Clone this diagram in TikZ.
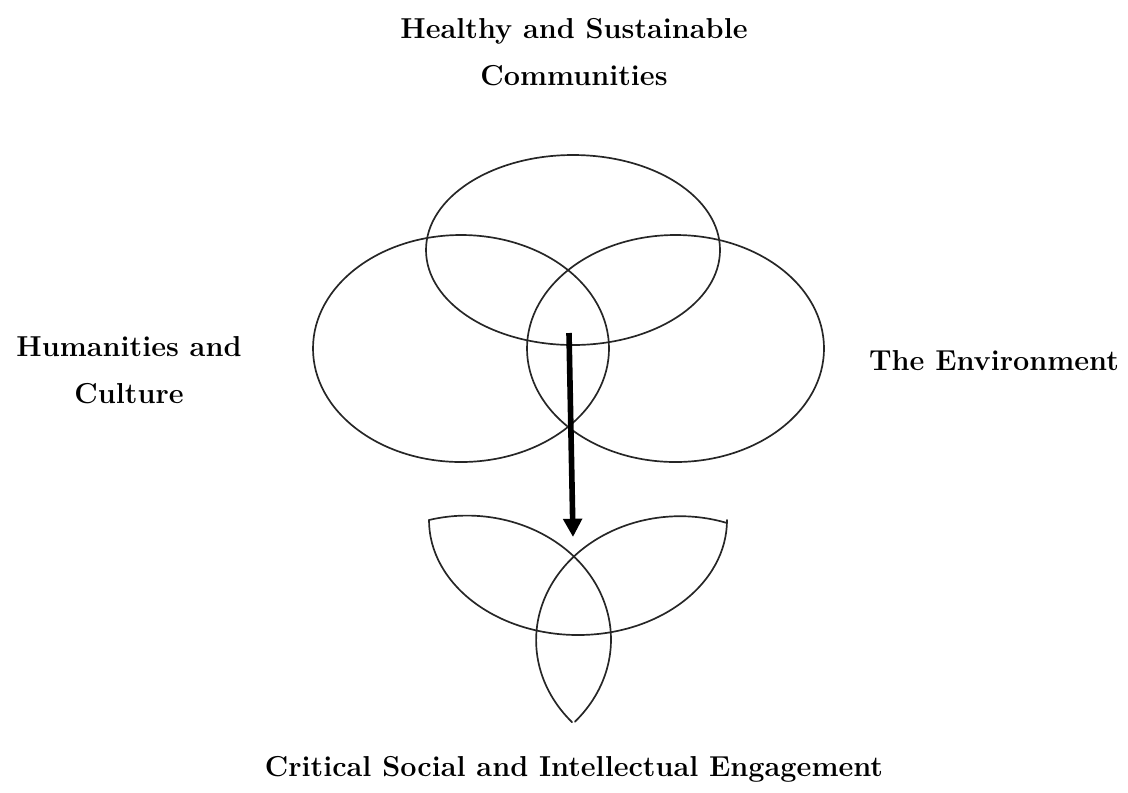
\documentclass[tikz,border=0pt]{standalone}
\usetikzlibrary{arrows.meta}
\tikzset{
	ring/.style={draw=black!85, line width=1.2pt},
	lbl/.style={font=\fontsize{20.5}{33}\selectfont\bfseries, align=center, inner sep=0pt}
}
\begin{document}
\begin{tikzpicture}[x=0.025cm, y=-0.025cm, line cap=round, line join=round]
	\useasboundingbox (0,0) rectangle (1128,792);
	% Ba hình elip của sơ đồ Venn
	\draw[ring] (573,250) ellipse [x radius=147, y radius=95];
	\draw[ring] (461,348.5) ellipse [x radius=148, y radius=113.5];
	\draw[ring] (675.5,348.5) ellipse [x radius=148.5, y radius=113.5];
	% Hình ba cánh bên dưới
	\draw[ring] (429,520) arc[start angle=180, end angle=0, x radius=149, y radius=115];
	\draw[ring] (429,520) arc[start angle=-105.3, end angle=41.5, x radius=144, y radius=124];
	\draw[ring] (727,523) arc[start angle=-71, end angle=-221.4, x radius=144, y radius=124];
	% Mũi tên
	\coordinate (venn) at (569,333);
	\coordinate (knot) at (573,537);
	\draw[line width=4pt, line cap=butt, -{Triangle[width=13pt, length=13pt]}] (venn) -- (knot);
	% Nhãn
	\node[lbl] (hsc) at (574,52) {Healthy and Sustainable\\Communities};
	\node[lbl] (hum) at (129,370) {Humanities and\\Culture};
	\node[lbl] (env) at (994,361) {The Environment};
	\node[lbl] (cse) at (574,769) {Critical Social and Intellectual Engagement};
\end{tikzpicture}
\end{document}
